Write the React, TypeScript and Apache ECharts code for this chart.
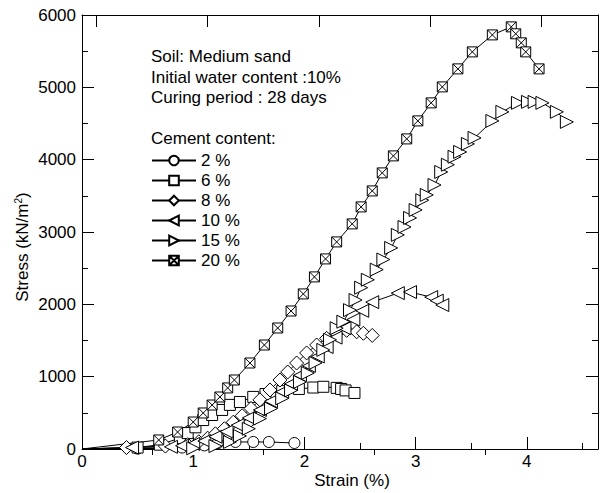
import React, { useEffect, useRef } from "react";
import * as echarts from "echarts";

const strain2 = [0, 0.5, 0.9, 1.1, 1.22, 1.38, 1.54, 1.68, 1.91];
const stress2 = [0, 5, 20, 50, 80, 97, 97, 97, 83];

const strain6 = [0, 0.5, 0.7, 0.88, 0.95, 1.02, 1.09, 1.17, 1.26, 1.33, 1.42, 1.54, 1.65, 1.8, 1.95, 2.08, 2.17, 2.29, 2.33, 2.37, 2.45];
const stress6 = [0, 20, 60, 150, 220, 300, 400, 470, 540, 610, 650, 720, 760, 800, 830, 850, 860, 845, 830, 810, 775];

const strain8 = [0, 0.4, 0.75, 0.95, 1.05, 1.13, 1.2, 1.28, 1.36, 1.44, 1.52, 1.6, 1.69, 1.78, 1.85, 1.93, 2.02, 2.11, 2.2, 2.29, 2.38, 2.47, 2.53, 2.61];
const stress8 = [0, 20, 40, 60, 100, 150, 210, 280, 370, 460, 560, 680, 816, 954, 1065, 1189, 1328, 1438, 1530, 1600, 1640, 1620, 1600, 1570];

const strain10 = [0, 0.45, 0.8, 0.9, 1.0, 1.1, 1.2, 1.3, 1.4, 1.5, 1.6, 1.7, 1.8, 1.88, 1.96, 2.04, 2.12, 2.2, 2.28, 2.36, 2.44, 2.52, 2.61, 2.84, 2.95, 3.14, 3.19, 3.24];
const stress10 = [0, 20, 30, 45, 70, 110, 170, 240, 330, 430, 540, 660, 790, 900, 1020, 1150, 1280, 1410, 1540, 1670, 1790, 1910, 2030, 2155, 2170, 2100, 2050, 1990];

const strain15 = [0, 1.0, 1.2, 1.33, 1.42, 1.5, 1.6, 1.7, 1.8, 1.88, 1.96, 2.03, 2.1, 2.17, 2.23, 2.29, 2.35, 2.41, 2.46, 2.51, 2.57, 2.65, 2.71, 2.78, 2.84, 2.9, 2.95, 3.0, 3.06, 3.1, 3.17, 3.23, 3.29, 3.35, 3.4, 3.47, 3.53, 3.69, 3.78, 3.92, 4.01, 4.07, 4.14, 4.27, 4.36];
const stress15 = [0, 10, 40, 97, 180, 280, 420, 560, 700, 810, 927, 1050, 1190, 1370, 1510, 1670, 1760, 1920, 2060, 2230, 2340, 2480, 2620, 2780, 2960, 3070, 3195, 3305, 3440, 3513, 3650, 3830, 3930, 4040, 4107, 4218, 4301, 4536, 4661, 4785, 4799, 4799, 4785, 4661, 4522];

const strain20 = [0, 0.69, 0.86, 1.0, 1.09, 1.17, 1.24, 1.31, 1.37, 1.51, 1.64, 1.76, 1.88, 1.99, 2.09, 2.19, 2.29, 2.43, 2.51, 2.61, 2.7, 2.8, 2.92, 3.02, 3.14, 3.24, 3.38, 3.51, 3.69, 3.86, 3.9, 3.95, 3.99, 4.11];
const stress20 = [0, 125, 235, 373, 498, 608, 719, 844, 954, 1189, 1438, 1673, 1908, 2144, 2379, 2628, 2863, 3112, 3347, 3568, 3817, 4052, 4287, 4536, 4785, 5006, 5255, 5490, 5725, 5836, 5740, 5615, 5490, 5255];

const seriesNames = ["2 %", "6 %", "8 %", "10 %", "15 %", "20 %"];
const xMajorTicks = [0, 1, 2, 3, 4];
const xMinorTicks = [0.5, 1.5, 2.5, 3.5, 4.5];
const xTopMajorTicks = [0.13, 1.13, 2.13, 3.13, 4.13];
const xTopMinorTicks = [0.63, 1.63, 2.63, 3.63];
const notes = ["Soil: Medium sand", "Initial water content :10%", "Curing period : 28 days"];
const noteY = [56, 77, 97];

const FONT = "'Liberation Sans', Arial, sans-serif";
const FS = 17;
const boxX = "path://M0,0L10,0L10,10L0,10Z M0,0L10,10 M10,0L0,10";

function zip(xs: number[], ys: number[]) {
  return xs.map((x, i) =>
    x === 0 && ys[i] === 0 ? { value: [x, ys[i]], symbol: "none" } : [x, ys[i]]
  );
}

export default function App() {
  const ref = useRef<HTMLDivElement>(null);
  useEffect(() => {
    if (!ref.current) return;
    document.body.style.margin = "0";
    const chart = echarts.init(ref.current, null, { renderer: "svg" });
    const mk = (name: string, xs: number[], ys: number[], symbol: string, size: number, rotate = 0) => ({
      name,
      type: "line",
      data: zip(xs, ys),
      symbol,
      symbolSize: size,
      symbolRotate: rotate,
      showAllSymbol: true,
      xAxisIndex: 0,
      yAxisIndex: 0,
      lineStyle: { color: "#000", width: 1 },
      itemStyle: { color: "#fff", borderColor: "#000", borderWidth: 1 },
      emphasis: { disabled: true },
      clip: false,
    });
    const axisCommon = {
      type: "value",
      min: 0,
      max: 4.64,
      splitLine: { show: false },
      axisLine: { show: true, onZero: false, lineStyle: { color: "#000", width: 1 } },
    };
    chart.setOption({
      animation: false,
      grid: { left: 82, right: 2, top: 15, bottom: 44 },
      xAxis: [
        {
          ...axisCommon,
          position: "bottom",
          axisTick: { inside: true, length: 12, customValues: xMajorTicks, lineStyle: { color: "#000" } },
          axisLabel: { customValues: xMajorTicks, color: "#000", fontSize: FS, fontFamily: FONT, margin: 4 },
        },
        {
          ...axisCommon,
          position: "bottom",
          axisLine: { show: false },
          axisTick: { inside: true, length: 6, customValues: xMinorTicks, lineStyle: { color: "#000" } },
          axisLabel: { show: false },
        },
        {
          ...axisCommon,
          position: "top",
          axisTick: { inside: true, length: 12, customValues: xTopMajorTicks, lineStyle: { color: "#000" } },
          axisLabel: { show: false },
        },
        {
          ...axisCommon,
          position: "top",
          axisLine: { show: false },
          axisTick: { inside: true, length: 6, customValues: xTopMinorTicks, lineStyle: { color: "#000" } },
          axisLabel: { show: false },
        },
      ],
      yAxis: [
        {
          type: "value",
          min: 0,
          max: 6000,
          interval: 1000,
          position: "left",
          splitLine: { show: false },
          axisLine: { show: true, onZero: false, lineStyle: { color: "#000" } },
          axisTick: { inside: true, length: 12, lineStyle: { color: "#000" } },
          minorTick: { show: true, splitNumber: 2, length: 6, lineStyle: { color: "#000" } },
          axisLabel: { color: "#000", fontSize: FS, fontFamily: FONT, margin: 6, formatter: (v: number) => String(v) },
        },
        {
          type: "value",
          min: 0,
          max: 6000,
          interval: 1000,
          position: "right",
          splitLine: { show: false },
          axisLine: { show: true, onZero: false, lineStyle: { color: "#000" } },
          axisTick: { inside: true, length: 12, lineStyle: { color: "#000" } },
          minorTick: { show: true, splitNumber: 2, length: 6, lineStyle: { color: "#000" } },
          axisLabel: { show: false },
        },
      ],
      legend: {
        orient: "vertical",
        left: 146,
        top: 147,
        itemWidth: 44,
        itemHeight: 12,
        itemGap: 3,
        data: seriesNames,
        textStyle: { color: "#000", fontSize: FS, fontFamily: FONT },
        selectedMode: false,
      },
      graphic: [
        ...notes.map((t, i) => ({
          type: "text",
          x: 151,
          y: noteY[i],
          style: { text: t, fill: "#000", font: `${FS}px ${FONT}`, verticalAlign: "middle" },
        })),
        {
          type: "text",
          x: 151,
          y: 138,
          style: { text: "Cement content:", fill: "#000", font: `${FS}px ${FONT}`, verticalAlign: "middle" },
        },
        {
          type: "text",
          x: 352,
          y: 480,
          style: { text: "Strain (%)", fill: "#000", font: `${FS}px ${FONT}`, align: "center", verticalAlign: "middle" },
        },
        {
          type: "text",
          x: 22,
          y: 247,
          rotation: Math.PI / 2,
          style: {
            text: "Stress (kN/m{sup|2})",
            fill: "#000",
            font: `${FS}px ${FONT}`,
            align: "center",
            verticalAlign: "middle",
            rich: { sup: { fontSize: 10, fontFamily: FONT, fill: "#000", padding: [0, 0, 8, 0] } },
          },
        },
      ],
      series: [
        mk(seriesNames[0], strain2, stress2, "circle", 11),
        mk(seriesNames[1], strain6, stress6, "rect", 11),
        mk(seriesNames[2], strain8, stress8, "diamond", 14),
        mk(seriesNames[3], strain10, stress10, "triangle", 13, 90),
        mk(seriesNames[4], strain15, stress15, "triangle", 13, -90),
        mk(seriesNames[5], strain20, stress20, boxX, 10),
      ],
    });
    return () => chart.dispose();
  }, []);
  return <div ref={ref} style={{ width: 600, height: 493 }} />;
}
